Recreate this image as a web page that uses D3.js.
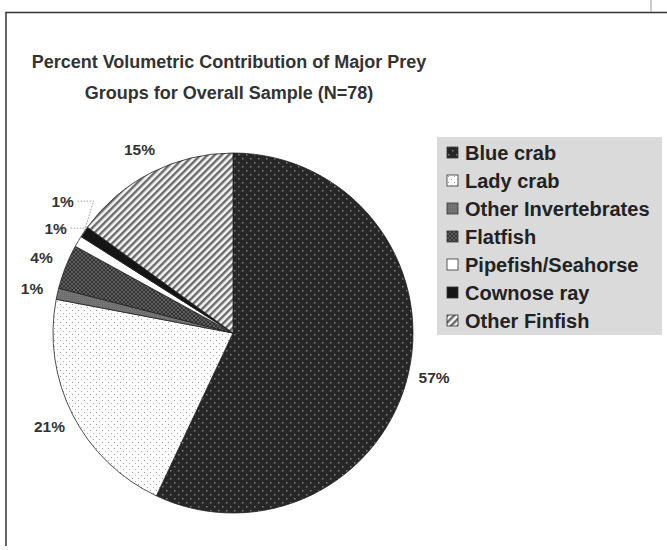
<!DOCTYPE html>
<html><head><meta charset="utf-8">
<script src="https://cdn.jsdelivr.net/npm/d3@7"></script>
<style>body{margin:0;background:#fff}svg{display:block}</style>
</head><body>
<svg id="c" width="667" height="550"></svg>
<script>
const categories = ["Blue crab","Lady crab","Other Invertebrates","Flatfish","Pipefish/Seahorse","Cownose ray","Other Finfish"];
const values = [57,21,1,4,1,1,15];
const labels = ["57%","21%","1%","4%","1%","1%","15%"];
const titleLines = ["Percent Volumetric Contribution of Major Prey","Groups for Overall Sample (N=78)"];

const svg = d3.select("#c");
const defs = svg.append("defs");
const font = "'Liberation Sans', Arial, sans-serif";

function pat(id,w,h,bg){const p=defs.append("pattern").attr("id",id).attr("patternUnits","userSpaceOnUse").attr("width",w).attr("height",h);p.append("rect").attr("width",w).attr("height",h).attr("fill",bg);return p;}
let p = pat("p0",8,8,"#272727");
p.append("rect").attr("x",1).attr("y",1).attr("width",1.5).attr("height",1.5).attr("fill","#7e7e7e");
p.append("rect").attr("x",5).attr("y",5).attr("width",1.5).attr("height",1.5).attr("fill","#7e7e7e");
p = pat("p1",6,6,"#fdfdfd");
p.append("rect").attr("x",1).attr("y",1).attr("width",1).attr("height",1).attr("fill","#9a9a9a");
p.append("rect").attr("x",4).attr("y",4).attr("width",1).attr("height",1).attr("fill","#b0b0b0");
p = pat("p2",2,2,"#6e6e6e");
p.append("rect").attr("width",1).attr("height",1).attr("fill","#7c7c7c");
p = pat("p3",4,4,"#333333");
p.append("rect").attr("width",2).attr("height",2).attr("fill","#5e5e5e");
p.append("rect").attr("x",2).attr("y",2).attr("width",2).attr("height",2).attr("fill","#5e5e5e");
p = pat("p4",4,4,"#ffffff");
p = pat("p5",4,4,"#151515");
p = defs.append("pattern").attr("id","p6").attr("patternUnits","userSpaceOnUse").attr("width",5).attr("height",5).attr("patternTransform","rotate(45)");
p.append("rect").attr("width",5).attr("height",5).attr("fill","#f4f4f4");
p.append("rect").attr("width",2.4).attr("height",5).attr("fill","#6a6a6a");

// frame
svg.append("path").attr("d","M6,546 L6,12.5 L667,12.5").attr("fill","none").attr("stroke","#333").attr("stroke-width",1.5);
svg.append("line").attr("x1",651).attr("x2",651).attr("y1",0).attr("y2",12).attr("stroke","#999").attr("stroke-width",1);

// title
svg.append("text").attr("x",229).attr("y",68).attr("text-anchor","middle")
  .attr("font-family",font).attr("font-weight","bold").attr("font-size",18).attr("fill","#333")
  .selectAll("tspan").data(titleLines).join("tspan").attr("x",229).attr("dy",(d,i)=>i?31:0).text(d=>d);

// pie
const cx=233, cy=333, r=180;
const g = svg.append("g").attr("transform",`translate(${cx},${cy})`);
const pie = d3.pie().sort(null).value(d=>d.v);
const data = categories.map((c,i)=>({c,v:values[i],l:labels[i],i}));
const arcs = pie(data);
const arc = d3.arc().innerRadius(0).outerRadius(r);
g.selectAll("path.s").data(arcs).join("path").attr("class","s")
  .attr("d",arc).attr("fill",d=>`url(#p${d.data.i})`).attr("stroke","#222").attr("stroke-width",0.8);

// labels
const rl = 206;
const pos = arcs.map(a=>{const m=(a.startAngle+a.endAngle)/2;return {a,m,x:rl*Math.sin(m),y:-rl*Math.cos(m)};});
const left = pos.filter(p=>p.x<0).sort((a,b)=>b.y-a.y);
for(let k=1;k<left.length;k++){ if(left[k-1].y-left[k].y<27) {left[k].y=left[k-1].y-27;} }
pos.forEach((p,k)=>{
  const v=p.a.data.v, prev=values[k-1], next=values[k+1];
  if(v<=1 && (prev<=1 || next<=1)){
    const ex=r*Math.sin(p.m), ey=-r*Math.cos(p.m);
    const lx=p.x+15, ly=p.y;
    g.append("polyline").attr("points",`${lx},${ly} ${lx+16},${ly} ${ex},${ey}`)
      .attr("fill","none").attr("stroke","#999").attr("stroke-width",1).attr("stroke-dasharray","1.5,1.5");
  }
});
g.selectAll("text.l").data(pos).join("text").attr("class","l")
  .attr("x",d=>d.x).attr("y",d=>d.y+5.5).attr("text-anchor","middle")
  .attr("font-family",font).attr("font-weight","bold").attr("font-size",15.5).attr("fill","#333")
  .text(d=>d.a.data.l);

// legend
const lg = svg.append("g").attr("transform","translate(437,137)");
lg.append("rect").attr("width",225).attr("height",198).attr("fill","#dadada");
const row = d3.scaleBand().domain(categories).range([2,198]);
const items = lg.selectAll("g").data(data).join("g").attr("transform",d=>`translate(10,${row(d.c)+row.bandwidth()/2})`);
items.append("rect").attr("x",0).attr("y",-6).attr("width",11).attr("height",11)
  .attr("fill",d=>`url(#p${d.i})`).attr("stroke","#333").attr("stroke-width",0.8);
items.append("text").attr("x",18).attr("y",7).attr("font-family",font).attr("font-weight","bold")
  .attr("font-size",20).attr("fill","#222").text(d=>d.c);
</script>
</body></html>
